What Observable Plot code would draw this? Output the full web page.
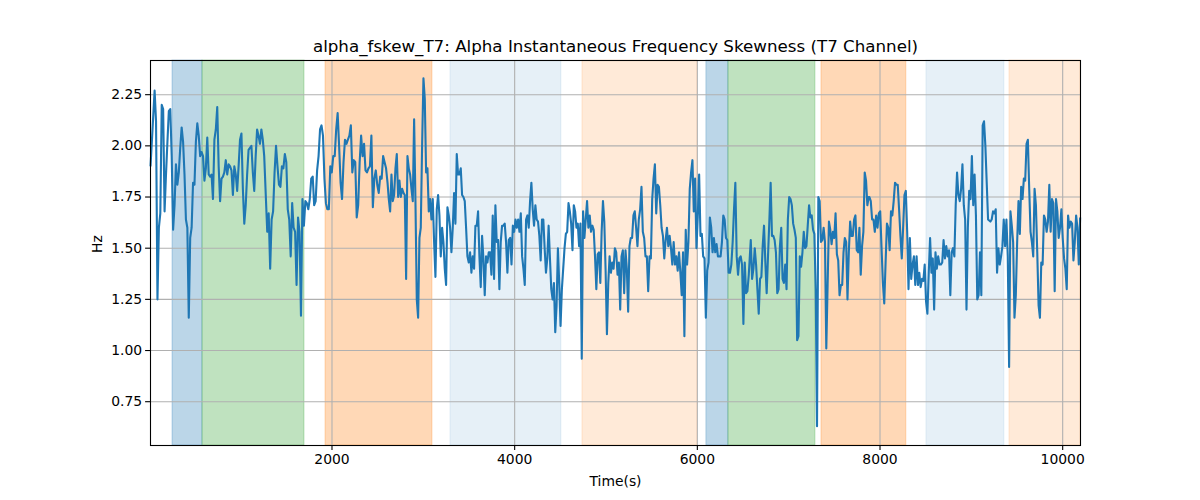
<!DOCTYPE html>
<html>
<head>
<meta charset="utf-8">
<script src="https://cdn.jsdelivr.net/npm/d3@7"></script>
<script src="https://cdn.jsdelivr.net/npm/@observablehq/plot@0.6"></script>
<style>
  html, body { margin: 0; padding: 0; background: #fff; }
  #chart svg { font-family: "DejaVu Sans", sans-serif; }
</style>
</head>
<body>
<div id="chart"></div>
<script>
// ---- data ----
const title = "alpha_fskew_T7: Alpha Instantaneous Frequency Skewness (T7 Channel)";
const xLabel = "Time(s)";
const yLabel = "Hz";
const xTicks = [2000, 4000, 6000, 8000, 10000];
const yTicks = [0.75, 1.00, 1.25, 1.50, 1.75, 2.00, 2.25];

// shaded periods
const bandStart = [254, 582, 1929, 3297, 4742, 6099, 6340, 7359, 8508, 9417];
const bandEnd   = [582, 1699, 3100, 4512, 6000, 6340, 7293, 8288, 9362, 10195];
const bandColor = ["#1f77b4", "#2ca02c", "#ff7f0e", "#1f77b4", "#ff7f0e",
                   "#1f77b4", "#2ca02c", "#ff7f0e", "#1f77b4", "#ff7f0e"];
const bandAlpha = [0.3, 0.3, 0.3, 0.11, 0.16, 0.3, 0.3, 0.3, 0.11, 0.16];

// series, in consecutive time spans [start, end] (seconds)
const segSpan = [[13, 13], [58, 1258], [1291, 2608], [2622, 3935], [3951, 5257],
                 [5271, 6563], [6585, 7876], [7884, 9183], [9208, 10191]];
const seg0 = [1.90];
const seg1 = [2.27, 2.12, 1.25, 1.60, 1.67, 2.20, 2.18, 1.68, 1.86, 2.02, 2.17, 2.18, 1.95, 1.59, 1.71, 1.91, 1.81, 1.87, 1.99, 2.09, 2.02, 1.86, 1.64, 1.60, 1.16, 1.55, 1.60, 1.82, 1.81, 2.02, 2.11, 2.05, 1.95, 1.97, 1.95, 1.83, 1.89, 2.04, 1.86, 1.85, 1.86, 1.74, 2.03, 2.08, 2.19, 1.90, 1.73, 1.84, 1.85, 1.87, 1.93, 1.86, 1.91, 1.90, 1.88, 1.76, 1.90, 1.86, 1.78, 1.90, 2.03, 2.06, 1.79, 1.62, 1.71, 1.86, 1.98, 1.99, 2.00, 1.87, 1.78, 1.95, 2.08, 2.05, 2.01, 2.08, 2.03, 1.95];
const seg2 = [1.58, 1.67, 1.40, 1.64, 1.68, 1.87, 2.00, 1.90, 1.81, 1.80, 1.90, 1.89, 1.96, 1.92, 1.69, 1.64, 1.46, 1.72, 1.60, 1.58, 1.32, 1.65, 1.58, 1.17, 1.74, 1.61, 1.73, 1.72, 1.69, 1.74, 1.84, 1.85, 1.71, 1.73, 1.88, 1.95, 2.08, 2.10, 2.05, 1.84, 1.72, 1.69, 1.69, 1.90, 1.87, 1.95, 1.95, 2.08, 2.16, 2.00, 1.82, 1.74, 1.92, 2.03, 2.01, 2.03, 2.05, 2.10, 1.87, 1.93, 1.92, 1.65, 1.71, 1.92, 2.05, 1.95, 2.01, 1.88, 1.87, 1.89, 1.90, 2.05, 1.70, 1.84, 1.88, 1.81, 1.77, 1.85, 1.84, 1.95, 1.92, 1.89, 1.82];
const seg3 = [1.74, 1.68, 1.86, 1.73, 1.76, 1.89, 1.96, 1.75, 1.83, 1.75, 1.79, 1.77, 1.76, 1.35, 1.95, 1.89, 1.86, 1.79, 1.73, 2.13, 1.73, 1.25, 1.16, 1.55, 1.60, 2.00, 2.33, 2.23, 1.87, 1.89, 1.68, 1.74, 1.64, 1.74, 1.53, 1.36, 1.69, 1.76, 1.66, 1.46, 1.60, 1.53, 1.40, 1.32, 1.70, 1.66, 1.60, 1.48, 1.60, 1.77, 1.62, 1.96, 1.86, 1.86, 1.89, 1.76, 1.75, 1.73, 1.60, 1.46, 1.43, 1.48, 1.38, 1.46, 1.40, 1.61, 1.61, 1.68, 1.46, 1.31, 1.56, 1.45, 1.27, 1.46, 1.43, 1.48, 1.48, 1.37, 1.66, 1.35, 1.71, 1.53, 1.54, 1.30, 1.53, 1.61, 1.61, 1.62, 1.53, 1.38, 1.54];
const seg4 = [1.55, 1.42, 1.61, 1.58, 1.64, 1.60, 1.64, 1.58, 1.67, 1.46, 1.40, 1.32, 1.64, 1.66, 1.60, 1.73, 1.82, 1.69, 1.61, 1.71, 1.64, 1.63, 1.56, 1.44, 1.64, 1.64, 1.50, 1.38, 1.45, 1.61, 1.45, 1.30, 1.25, 1.33, 1.09, 1.22, 1.50, 1.33, 1.12, 1.30, 1.40, 1.50, 1.57, 1.58, 1.72, 1.68, 1.62, 1.49, 1.71, 1.68, 1.60, 1.62, 1.51, 1.62, 0.96, 1.68, 1.55, 1.64, 1.73, 1.60, 1.66, 1.58, 1.61, 1.59, 1.46, 1.30, 1.47, 1.48, 1.33, 1.58, 1.73, 1.63, 1.39, 1.08, 1.33, 1.46, 1.38, 1.43, 1.40, 1.50, 1.48, 1.37, 1.43, 1.20, 1.46, 1.49, 1.28, 1.49, 1.40, 1.19, 1.51];
const seg5 = [1.55, 1.55, 1.66, 1.68, 1.60, 1.51, 1.64, 1.69, 1.80, 1.58, 1.55, 1.46, 1.46, 1.29, 1.46, 1.45, 1.74, 1.84, 1.91, 1.67, 1.81, 1.80, 1.71, 1.60, 1.56, 1.45, 1.54, 1.60, 1.51, 1.56, 1.50, 1.42, 1.53, 1.42, 1.46, 1.39, 1.48, 1.38, 1.27, 1.48, 1.07, 1.59, 1.42, 1.53, 1.79, 1.87, 1.93, 1.68, 1.84, 1.50, 1.66, 1.86, 1.56, 1.57, 1.46, 1.45, 1.16, 1.39, 1.43, 1.65, 1.60, 1.48, 1.55, 1.48, 1.52, 1.46, 1.46, 1.46, 1.53, 1.66, 1.64, 1.55, 1.54, 1.38, 1.38, 1.42, 1.53, 1.69, 1.82, 1.46, 1.37, 1.45, 1.46, 1.42, 1.13, 1.43, 1.28, 1.29, 1.37];
const seg6 = [1.54, 1.35, 1.40, 1.50, 1.42, 1.30, 1.18, 1.35, 1.36, 1.51, 1.61, 1.43, 1.28, 1.46, 1.63, 1.82, 1.56, 1.56, 1.54, 1.48, 1.28, 1.30, 1.51, 1.60, 1.35, 1.33, 1.42, 1.30, 1.64, 1.75, 1.74, 1.71, 1.62, 1.59, 1.55, 1.05, 1.07, 1.46, 1.41, 1.48, 1.58, 1.50, 1.51, 1.61, 1.71, 1.65, 1.66, 1.59, 1.57, 1.30, 0.63, 1.75, 1.73, 1.53, 1.54, 1.60, 1.53, 1.01, 1.32, 1.63, 1.59, 1.52, 1.58, 1.55, 1.67, 1.47, 1.44, 1.27, 1.32, 1.32, 1.48, 1.55, 1.53, 1.25, 1.48, 1.63, 1.56, 1.56, 1.64, 1.66, 1.49, 1.48, 1.60, 1.37, 1.51, 1.58, 1.87, 1.83, 1.71, 1.75];
const seg7 = [1.75, 1.73, 1.64, 1.64, 1.58, 1.66, 1.60, 1.67, 1.68, 1.50, 1.33, 1.23, 1.43, 1.62, 1.60, 1.49, 1.68, 1.66, 1.73, 1.82, 1.81, 1.81, 1.69, 1.56, 1.45, 1.60, 1.76, 1.78, 1.58, 1.30, 1.55, 1.35, 1.42, 1.46, 1.32, 1.46, 1.32, 1.38, 1.31, 1.35, 1.34, 1.42, 1.24, 1.18, 1.38, 1.55, 1.38, 1.45, 1.20, 1.48, 1.40, 1.46, 1.42, 1.42, 1.43, 1.54, 1.45, 1.51, 1.46, 1.49, 1.27, 1.48, 1.50, 1.46, 1.71, 1.87, 1.76, 1.73, 1.79, 1.91, 1.71, 1.64, 1.20, 1.60, 1.78, 1.74, 1.95, 1.71, 1.86, 1.66, 1.25, 1.27, 1.48, 1.27, 2.10, 2.12, 2.00, 1.82, 1.64];
const seg8 = [1.63, 1.64, 1.68, 1.67, 1.69, 1.38, 1.50, 1.42, 1.46, 1.51, 1.64, 1.51, 1.64, 1.46, 0.92, 1.68, 1.61, 1.53, 1.16, 1.27, 1.53, 1.73, 1.57, 1.80, 1.74, 1.84, 1.83, 2.01, 2.03, 1.79, 1.58, 1.53, 1.46, 1.79, 1.71, 1.48, 1.22, 1.16, 1.43, 1.42, 1.66, 1.64, 1.58, 1.63, 1.81, 1.58, 1.74, 1.72, 1.29, 1.74, 1.68, 1.55, 1.60, 1.69, 1.55, 1.45, 1.40, 1.30, 1.66, 1.60, 1.63, 1.62, 1.44, 1.53, 1.66, 1.60, 1.42, 1.65];

// ---- build tables ----
const segs = [seg0, seg1, seg2, seg3, seg4, seg5, seg6, seg7, seg8];
const series = [];
segs.forEach((vals, k) => {
  const [a, b] = segSpan[k];
  const n = vals.length;
  vals.forEach((v, i) => {
    series.push({t: n > 1 ? a + (b - a) * i / (n - 1) : a, v});
  });
});
const bands = bandStart.map((s, i) => ({x1: s, x2: bandEnd[i], c: bandColor[i], a: bandAlpha[i]}));

const chart = Plot.plot({
  width: 1200,
  height: 500,
  marginLeft: 150,
  marginRight: 120,
  marginTop: 60,
  marginBottom: 55,
  style: {fontFamily: "DejaVu Sans, sans-serif", fontSize: "13.9px", color: "black", background: "white"},
  x: {domain: [13, 10195], ticks: xTicks},
  y: {domain: [0.536, 2.417], ticks: yTicks},
  marks: [
    Plot.rect(bands, {x1: "x1", x2: "x2", fill: "c", fillOpacity: "a", stroke: "c", strokeOpacity: d => d.a * 0.9, strokeWidth: 1}),
    Plot.gridX(xTicks, {stroke: "#b0b0b0", strokeOpacity: 1, strokeWidth: 1.1}),
    Plot.gridY(yTicks, {stroke: "#b0b0b0", strokeOpacity: 1, strokeWidth: 1.1}),
    Plot.line(series, {x: "t", y: "v", stroke: "#1f77b4", strokeWidth: 2.1, strokeLinejoin: "round", strokeLinecap: "butt"}),
    Plot.frame({stroke: "black", strokeWidth: 1.1}),
    Plot.axisX(xTicks, {tickSize: 4.9, tickPadding: 3.5, label: null, tickFormat: d3.format("d"), fontSize: 13.9, strokeWidth: 1.1}),
    Plot.axisY(yTicks, {tickSize: 4.9, tickPadding: 3.5, label: null, tickFormat: d3.format(".2f"), fontSize: 13.9, strokeWidth: 1.1}),
    Plot.text([title], {frameAnchor: "top", dy: -14, fontSize: 16.7, lineAnchor: "middle", fill: "black"}),
    Plot.text([xLabel], {frameAnchor: "bottom", dy: 36, fontSize: 13.9, lineAnchor: "middle", fill: "black"}),
    Plot.text([yLabel], {frameAnchor: "left", dx: -53, rotate: -90, fontSize: 13.9, lineAnchor: "middle", fill: "black"})
  ]
});
document.getElementById("chart").appendChild(chart);
</script>
</body>
</html>
